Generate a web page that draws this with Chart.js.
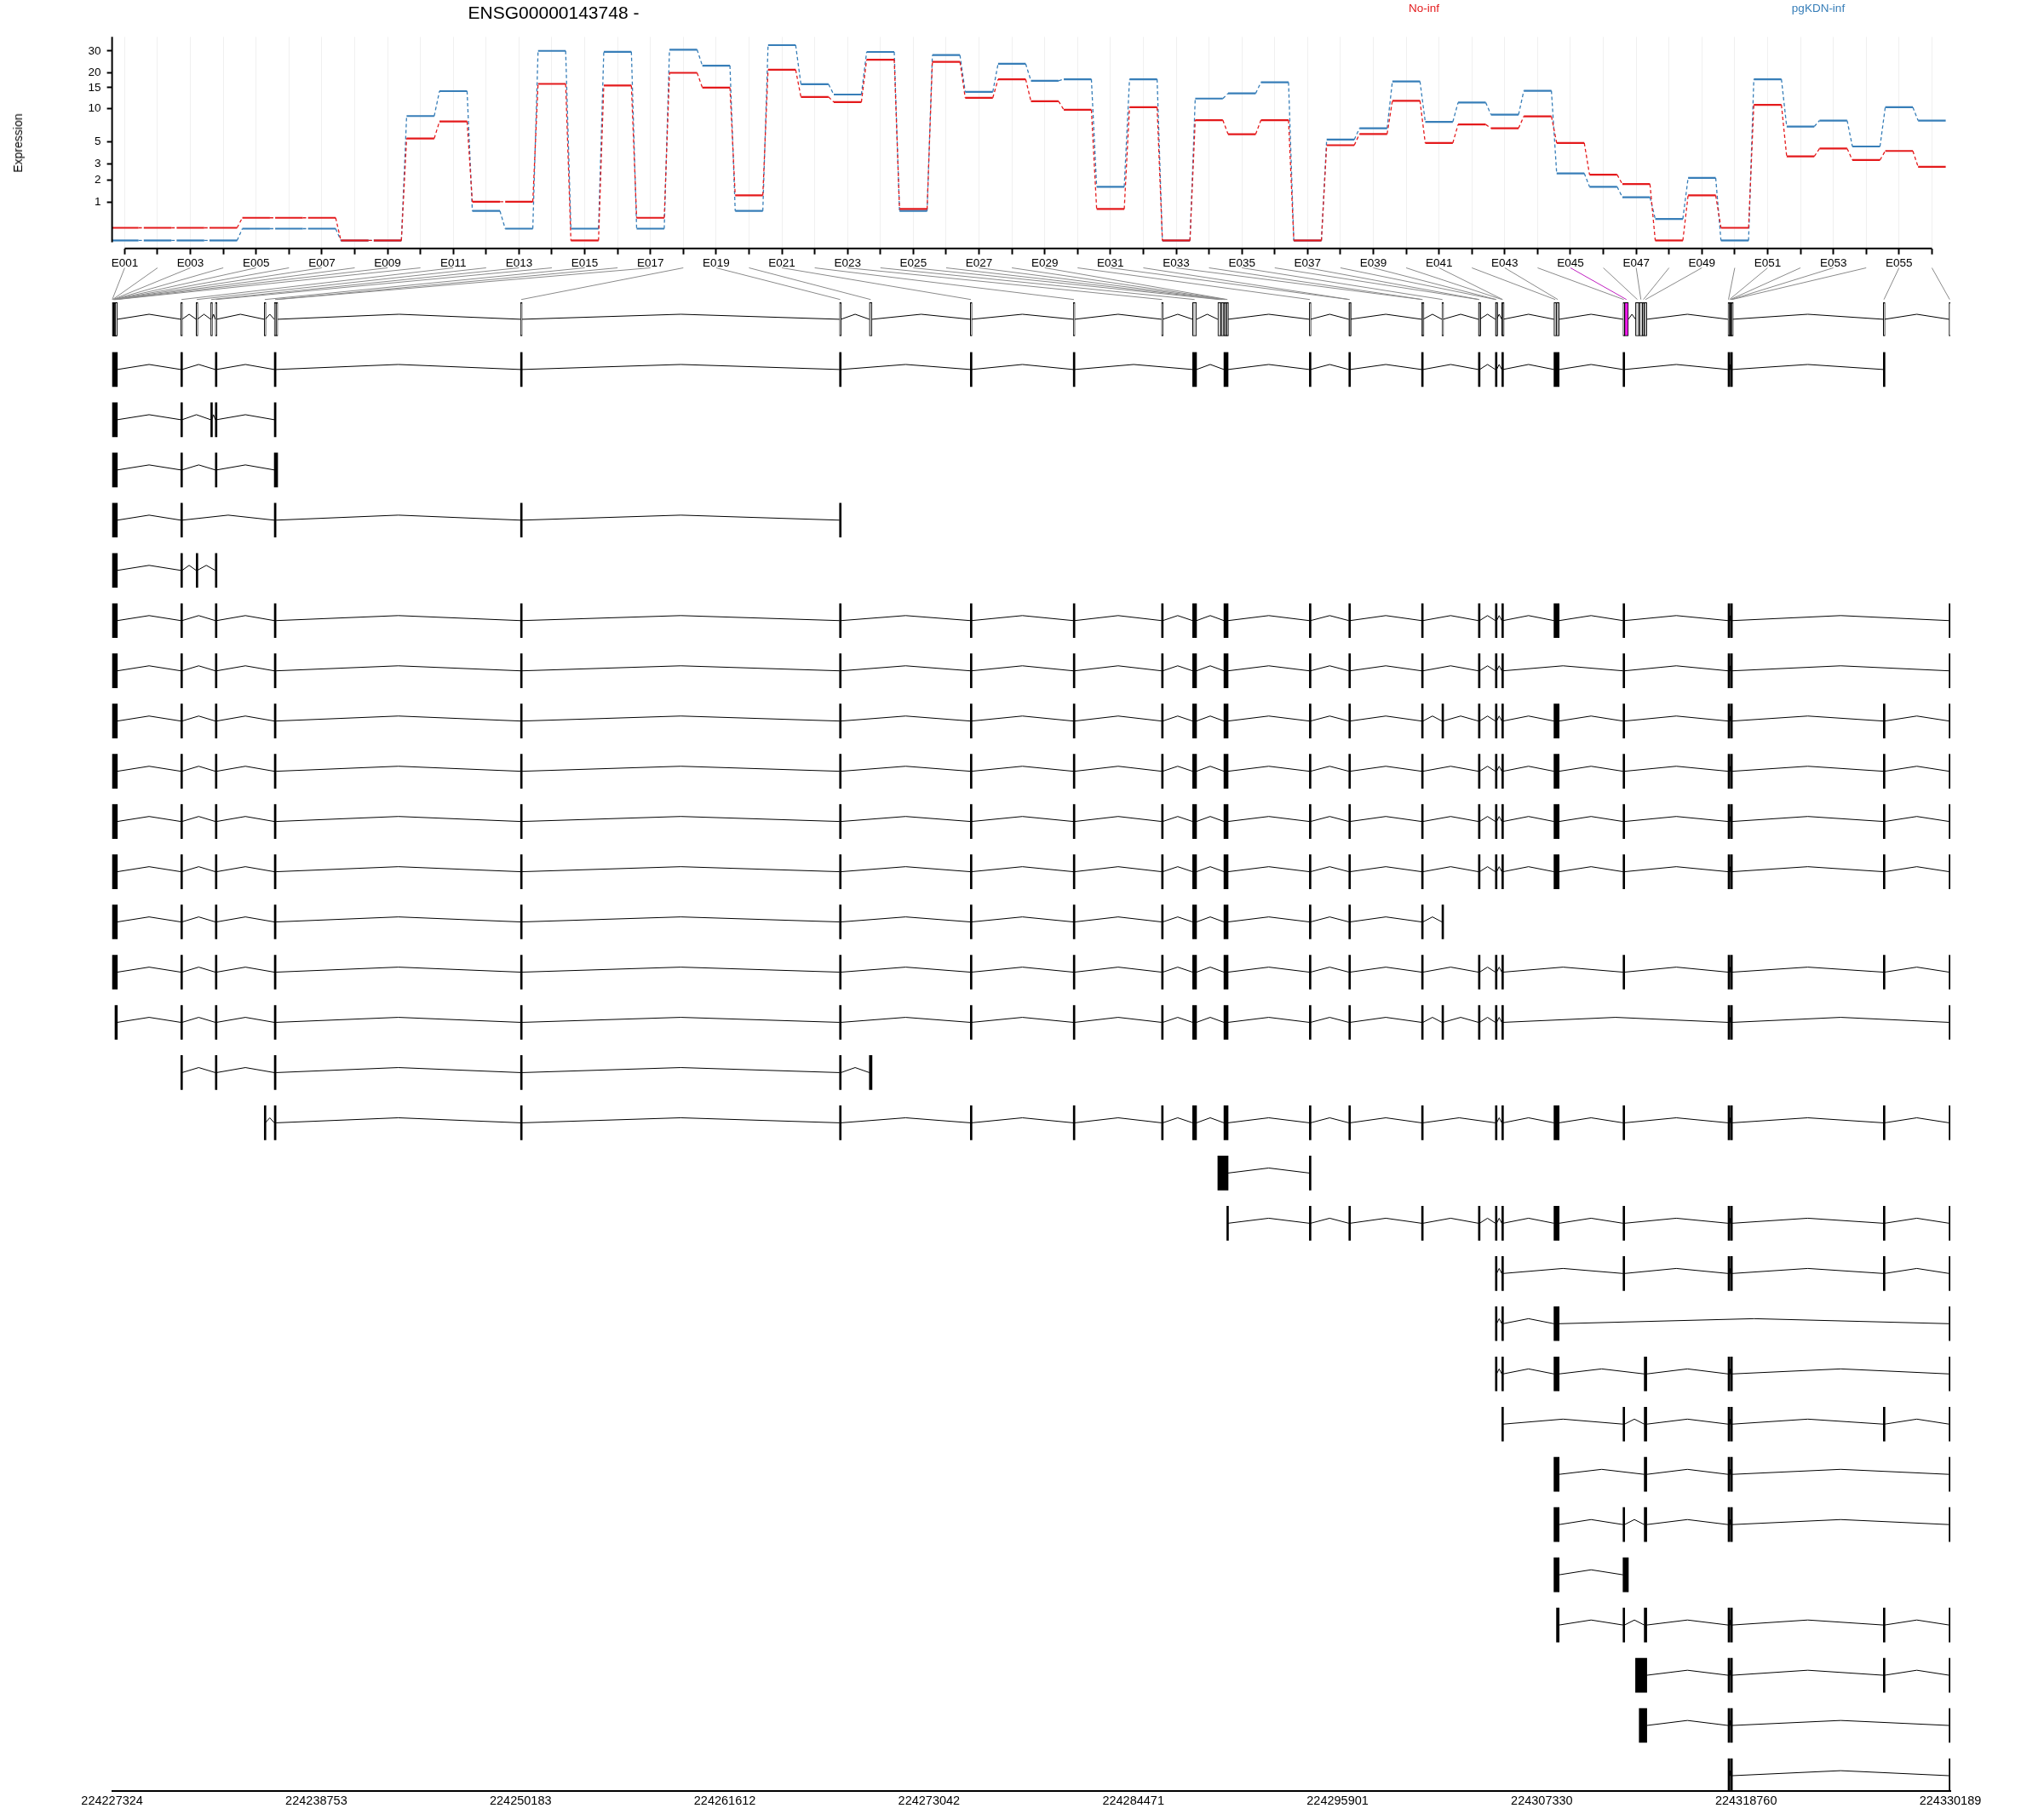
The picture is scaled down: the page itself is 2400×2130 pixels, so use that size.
<!DOCTYPE html>
<html>
<head>
<meta charset="utf-8">
<title>ENSG00000143748</title>
<script src="https://cdn.jsdelivr.net/npm/chart.js@4.4.1/dist/chart.umd.min.js"></script>
<style>
    html, body { margin: 0; padding: 0; background: #fff; }
    #wrap { position: relative; width: 2400px; height: 2130px; }
    #wrap canvas { position: absolute; left: 0; top: 0; }
    .txt { position: absolute; font-family: "Liberation Sans", Arial, sans-serif; white-space: nowrap; transform: translate(-50%, -50%); }
</style>
</head>
<body>
<div id="wrap">
    <canvas id="genes" width="2400" height="2130"></canvas>
    <canvas id="expr" width="2400" height="2130"></canvas>
    <div class="txt" style="left:650px; top:15px; font-size:21px;">ENSG00000143748 -</div>
    <div class="txt" style="left:1672px; top:9px; font-size:13.5px; color:#E41A1C;">No-inf</div>
    <div class="txt" style="left:2135px; top:9px; font-size:13.5px; color:#377EB8;">pgKDN-inf</div>
    <div class="txt" style="left:21px; top:168px; font-size:14px; transform: translate(-50%, -50%) rotate(-90deg);">Expression</div>
</div>
<script>
// Exon bins
const binNames = Array.from({ length: 56 }, (_, i) => 'E' + String(i + 1).padStart(3, '0'));

// Fitted expression per bin
const noInf = [0.26, 0.26, 0.26, 0.26, 0.51, 0.51, 0.51, 0, 0, 5.36,
    7.65, 1.02, 1.02, 16.1, 0, 15.6, 0.51, 19.9, 15.0, 1.27,
    21.1, 12.5, 11.3, 25.5, 0.77, 24.5, 12.3, 17.6, 11.5, 9.7,
    0.77, 10.2, 0, 7.87, 5.87, 7.87, 0, 4.63, 5.9, 11.6,
    4.86, 7.2, 6.66, 8.5, 4.86, 2.30, 1.78, 0, 1.27, 0.26,
    10.7, 3.6, 4.3, 3.3, 4.07, 2.8];
const pgKDN = [0, 0, 0, 0, 0.24, 0.24, 0.24, 0, 0, 8.55,
    14.0, 0.71, 0.24, 30.1, 0.24, 29.6, 0.24, 30.8, 22.8, 0.71,
    33.5, 16.0, 13.1, 29.5, 0.71, 27.8, 13.8, 23.6, 17.1, 17.6,
    1.65, 17.6, 0, 12.1, 13.4, 16.6, 0, 5.23, 6.66, 16.9,
    7.6, 11.2, 8.8, 14.1, 2.38, 1.65, 1.19, 0.48, 2.11, 0,
    17.6, 6.9, 7.8, 4.5, 10.2, 7.8];

const expTicks = [1, 2, 3, 5, 10, 15, 20, 30];
const genomicTicks = [224227324, 224238753, 224250183, 224261612, 224273042,
    224284471, 224295901, 224307330, 224318760, 224330189];

// Genomic extent of each bin
const binStart = [224227324, 224227346, 224227366, 224227386, 224227406, 224227426, 224227446, 224227466, 224227486, 224227506,
    224231170, 224232030, 224232845, 224233100, 224235840, 224236400, 224236501, 224250180, 224268030, 224269700,
    224275350, 224281110, 224286050, 224287790, 224289200, 224289381, 224289541, 224289621, 224289701, 224294320,
    224296530, 224296566, 224300600, 224300641, 224301740, 224303780, 224303816, 224304730, 224304766, 224305090,
    224305126, 224308009, 224308151, 224311874, 224311961, 224312575, 224312781, 224312971, 224313061, 224317750,
    224317801, 224317861, 224317901, 224317951, 224326440, 224330120];
const binEnd = [224227345, 224227365, 224227385, 224227405, 224227425, 224227445, 224227465, 224227485, 224227505, 224227620,
    224231240, 224232090, 224232900, 224233170, 224235900, 224236500, 224236590, 224250260, 224268110, 224269850,
    224275420, 224281190, 224286120, 224288010, 224289380, 224289540, 224289620, 224289700, 224289775, 224294390,
    224296565, 224296600, 224300640, 224300680, 224301800, 224303815, 224303850, 224304765, 224304800, 224305125,
    224305160, 224308150, 224308300, 224311960, 224312174, 224312780, 224312970, 224313060, 224313204, 224317800,
    224317860, 224317900, 224317950, 224317988, 224326510, 224330189];

const sigBins = ['E045'];
const untestedBins = ['E001', 'E002', 'E003', 'E004', 'E005', 'E006', 'E007', 'E008', 'E009', 'E010'];

// Transcript models: exons as [first bin, last bin] (1-based)
const transcripts = [
    [[1,10],[11,11],[14,14],[16,16],[18,18],[19,19],[21,21],[22,22],[24,24],[27,29],[30,30],[31,32],[33,34],[36,37],[38,39],[40,41],[42,43],[44,44],[50,51],[53,54],[55,55]],
    [[1,10],[11,11],[13,13],[14,14],[16,16]],
    [[1,10],[11,11],[14,14],[16,17]],
    [[1,10],[11,11],[16,16],[18,18],[19,19]],
    [[1,10],[11,11],[12,12],[14,14]],
    [[1,10],[11,11],[14,14],[16,16],[18,18],[19,19],[21,21],[22,22],[23,23],[24,24],[27,29],[30,30],[31,32],[33,34],[36,37],[38,39],[40,41],[42,43],[44,44],[50,51],[53,54],[56,56]],
    [[1,10],[11,11],[14,14],[16,16],[18,18],[19,19],[21,21],[22,22],[23,23],[24,24],[27,29],[30,30],[31,32],[33,34],[36,37],[38,39],[40,41],[44,44],[50,51],[53,54],[56,56]],
    [[1,10],[11,11],[14,14],[16,16],[18,18],[19,19],[21,21],[22,22],[23,23],[24,24],[27,29],[30,30],[31,32],[33,34],[35,35],[36,37],[38,39],[40,41],[42,43],[44,44],[50,51],[53,54],[55,55],[56,56]],
    [[1,10],[11,11],[14,14],[16,16],[18,18],[19,19],[21,21],[22,22],[23,23],[24,24],[27,29],[30,30],[31,32],[33,34],[36,37],[38,39],[40,41],[42,43],[44,44],[50,51],[53,54],[55,55],[56,56]],
    [[1,10],[11,11],[14,14],[16,16],[18,18],[19,19],[21,21],[22,22],[23,23],[24,24],[27,29],[30,30],[31,32],[33,34],[36,37],[38,39],[40,41],[42,43],[44,44],[50,51],[53,54],[55,55],[56,56]],
    [[1,10],[11,11],[14,14],[16,16],[18,18],[19,19],[21,21],[22,22],[23,23],[24,24],[27,29],[30,30],[31,32],[33,34],[36,37],[38,39],[40,41],[42,43],[44,44],[50,51],[53,54],[55,55],[56,56]],
    [[1,10],[11,11],[14,14],[16,16],[18,18],[19,19],[21,21],[22,22],[23,23],[24,24],[27,29],[30,30],[31,32],[33,34],[35,35]],
    [[1,10],[11,11],[14,14],[16,16],[18,18],[19,19],[21,21],[22,22],[23,23],[24,24],[27,29],[30,30],[31,32],[33,34],[36,37],[38,39],[40,41],[44,44],[50,51],[53,54],[55,55],[56,56]],
    [[9,10],[11,11],[14,14],[16,16],[18,18],[19,19],[21,21],[22,22],[23,23],[24,24],[27,29],[30,30],[31,32],[33,34],[35,35],[36,37],[38,39],[40,41],[50,51],[53,54],[56,56]],
    [[11,11],[14,14],[16,16],[18,18],[19,19],[20,20]],
    [[15,15],[16,16],[18,18],[19,19],[21,21],[22,22],[23,23],[24,24],[27,29],[30,30],[31,32],[33,34],[38,39],[40,41],[42,43],[44,44],[50,51],[53,54],[55,55],[56,56]],
    [[25,29],[30,30]],
    [[29,29],[30,30],[31,32],[33,34],[36,37],[38,39],[40,41],[42,43],[44,44],[50,51],[53,54],[55,55],[56,56]],
    [[38,39],[40,41],[44,44],[50,51],[53,54],[55,55],[56,56]],
    [[38,39],[40,41],[42,43],[56,56]],
    [[38,39],[40,41],[42,43],[49,49],[50,51],[53,54],[56,56]],
    [[40,41],[44,44],[49,49],[50,51],[53,54],[55,55],[56,56]],
    [[42,43],[49,49],[50,51],[53,54],[56,56]],
    [[42,43],[44,44],[49,49],[50,51],[53,54],[56,56]],
    [[42,43],[44,45]],
    [[43,43],[44,44],[49,49],[50,51],[53,54],[55,55],[56,56]],
    [[46,49],[50,51],[53,54],[55,55],[56,56]],
    [[47,49],[50,51],[53,54],[56,56]],
    [[50,51],[53,54],[56,56]]
];

const RED = '#E41A1C';
const BLUE = '#377EB8';
const HALF = 0.42;      // half width of a bin step in the expression panel
const HAT = 0.1;        // intron peak height (rows)
const MAP_TOP = -1.024; // mapping lines, in gene-panel row units
const MAP_BOT = -0.393;

Chart.defaults.font.family = "'Liberation Sans', Arial, sans-serif";
Chart.defaults.color = '#000';

const tf = v => Math.log10(v + 1);

function stepPoints(vals) {
    const pts = [];
    vals.forEach((v, i) => {
        pts.push({ x: i + 1 - HALF, y: tf(v) });
        pts.push({ x: i + 1 + HALF, y: tf(v) });
    });
    return pts;
}

function stepDataset(label, vals, color, order) {
    return {
        label,
        data: stepPoints(vals),
        borderColor: color,
        borderWidth: 2.2,
        pointRadius: 0,
        tension: 0,
        order,
        segment: {
            borderDash: ctx => ctx.p0DataIndex % 2 ? [4, 3] : undefined,
            borderWidth: ctx => ctx.p0DataIndex % 2 ? 1.3 : 2.2
        }
    };
}

// Axis lines drawn from first to last tick, like base R
const exprAxes = {
    id: 'exprAxes',
    afterDraw(chart) {
        const { ctx, scales: { x, y } } = chart;
        ctx.save();
        ctx.strokeStyle = '#000';
        ctx.lineWidth = 2;
        ctx.beginPath();
        ctx.moveTo(x.getPixelForValue(1), y.bottom);
        ctx.lineTo(x.getPixelForValue(binNames.length), y.bottom);
        ctx.moveTo(x.left, y.top);
        ctx.lineTo(x.left, y.getPixelForValue(tf(0)) + 2);
        ctx.stroke();
        ctx.restore();
    }
};

const exprChart = new Chart(document.getElementById('expr'), {
    type: 'line',
    data: {
        datasets: [
            stepDataset('No-inf', noInf, RED, 0),
            stepDataset('pgKDN-inf', pgKDN, BLUE, 1)
        ]
    },
    options: {
        responsive: false,
        animation: false,
        devicePixelRatio: 1,
        layout: { padding: { left: 0, right: 110, top: 43.3, bottom: 0 } },
        plugins: { legend: { display: false }, tooltip: { enabled: false } },
        scales: {
            x: {
                type: 'linear',
                offset: false,
                min: 0.616,
                max: 56.56,
                afterBuildTicks: s => { s.ticks = binNames.map((n, i) => ({ value: i + 1 })); },
                afterFit: s => { s.height = 2130 - 291.7; },
                ticks: {
                    autoSkip: false,
                    maxRotation: 0,
                    padding: 2,
                    font: { size: 13.5 },
                    callback: v => (v % 2 === 1 ? binNames[v - 1] : '')
                },
                grid: { color: 'rgba(0,0,0,0.06)', lineWidth: 1, tickLength: 7, tickColor: '#000', tickWidth: 2 },
                border: { display: false }
            },
            y: {
                type: 'linear',
                min: -0.062,
                max: 1.603,
                afterBuildTicks: s => { s.ticks = expTicks.map(v => ({ value: tf(v) })); },
                afterFit: s => { s.width = 131.6; },
                ticks: {
                    padding: 7,
                    font: { size: 13.5 },
                    callback: v => String(Math.round(Math.pow(10, v) - 1))
                },
                grid: { drawOnChartArea: false, tickLength: 6, tickColor: '#000', tickWidth: 2 },
                border: { display: false }
            }
        }
    },
    plugins: [exprAxes]
});

// Gene model panel
function hatPoints(segs, row) {
    const pts = [];
    for (let k = 0; k < segs.length - 1; k++) {
        const a = segs[k][1], b = segs[k + 1][0];
        if (b - a <= 1) continue;
        pts.push({ x: a, y: row }, { x: (a + b) / 2, y: row - HAT }, { x: b, y: row }, { x: b, y: null });
    }
    return pts;
}

const binSegs = binStart.map((s, i) => [s, binEnd[i]]);
let intronPts = hatPoints(binSegs, 0);
const exonData = [];
transcripts.forEach((tr, r) => {
    const segs = tr.map(([a, b]) => [binStart[a - 1], binEnd[b - 1]]);
    segs.forEach(s => exonData.push({ x: s, y: r + 1 }));
    intronPts = intronPts.concat(hatPoints(segs, r + 1));
});

const binFill = binNames.map(n => sigBins.includes(n) ? '#F219ED' : (untestedBins.includes(n) ? '#FFFFFF' : '#CCCCCC'));

const mapLines = {
    id: 'mapLines',
    afterDatasetsDraw(chart) {
        const { ctx } = chart;
        const xg = chart.scales.x, yg = chart.scales.y, xe = exprChart.scales.x;
        ctx.save();
        ctx.lineWidth = 1;
        binNames.forEach((n, i) => {
            ctx.strokeStyle = sigBins.includes(n) ? '#C020C0' : '#8A8A8A';
            ctx.beginPath();
            ctx.moveTo(xe.getPixelForValue(i + 1), yg.getPixelForValue(MAP_TOP));
            ctx.lineTo(xg.getPixelForValue((binStart[i] + binEnd[i]) / 2), yg.getPixelForValue(MAP_BOT));
            ctx.stroke();
        });
        ctx.restore();
    }
};

new Chart(document.getElementById('genes'), {
    type: 'bar',
    data: {
        datasets: [
            {
                type: 'bar',
                indexAxis: 'y',
                grouped: false,
                data: binSegs.map(s => ({ x: s, y: 0 })),
                backgroundColor: binFill,
                borderColor: '#000',
                borderWidth: 1,
                borderSkipped: false,
                barThickness: 39,
                minBarLength: 2
            },
            {
                type: 'bar',
                indexAxis: 'y',
                grouped: false,
                data: exonData,
                backgroundColor: '#000',
                borderWidth: 0,
                barThickness: 40,
                minBarLength: 2
            },
            {
                type: 'line',
                data: intronPts,
                borderColor: '#000',
                borderWidth: 1,
                pointRadius: 0,
                tension: 0,
                spanGaps: false
            }
        ]
    },
    options: {
        responsive: false,
        animation: false,
        devicePixelRatio: 1,
        layout: { padding: { left: 131.6, right: 110, top: 300, bottom: 0 } },
        plugins: { legend: { display: false }, tooltip: { enabled: false } },
        scales: {
            x: {
                type: 'linear',
                offset: false,
                min: genomicTicks[0],
                max: genomicTicks[genomicTicks.length - 1],
                afterBuildTicks: s => { s.ticks = genomicTicks.map(v => ({ value: v })); },
                afterFit: s => { s.height = 27; },
                ticks: { autoSkip: false, maxRotation: 0, padding: 3, font: { size: 14.5 }, callback: v => String(v) },
                grid: { display: false, drawTicks: false, offset: false },
                border: { display: true, color: '#000', width: 2 }
            },
            y: { type: 'linear', offset: false, display: false, reverse: true, min: -1.27, max: 29.305, grid: { offset: false } }
        }
    },
    plugins: [mapLines]
});
</script>
</body>
</html>
